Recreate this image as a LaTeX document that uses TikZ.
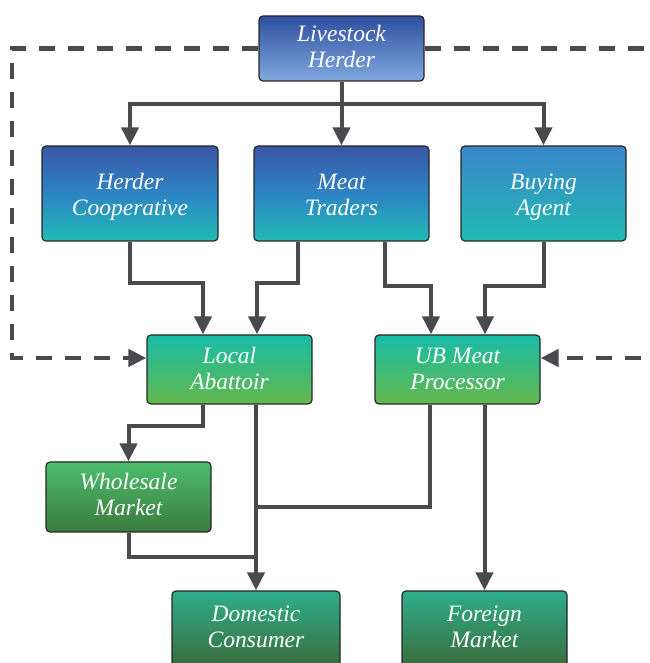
\documentclass[tikz,border=0pt]{standalone}
\usepackage{fontspec}
\setmainfont{Liberation Serif}
\usetikzlibrary{arrows.meta}

% box fills
\definecolor{herdTop}{HTML}{2F4FA0}
\definecolor{herdBot}{HTML}{80A8DE}
\definecolor{midTop}{HTML}{3A56A6}
\definecolor{midMid}{HTML}{2D84C4}
\definecolor{midBot}{HTML}{22BAB4}
\definecolor{agentTop}{HTML}{3A86CA}
\definecolor{procTop}{HTML}{18BCA6}
\definecolor{procBot}{HTML}{64B84C}
\definecolor{wsTop}{HTML}{4CBE6C}
\definecolor{wsBot}{HTML}{3A7A3E}
\definecolor{endTop}{HTML}{2EAE8C}
\definecolor{endBot}{HTML}{3C6432}
\definecolor{wire}{HTML}{4A4A4E}

% two centred lines of label text; the first baseline sits #1 above the box centre
\newcommand{\boxtext}[3]{\raisebox{#1}[0pt][0pt]{\begin{tabular}[t]{@{}c@{}}#2\\#3\end{tabular}}}

\tikzset{
  box/.style={draw=black!85, line width=1.2pt, rounded corners=4pt,
    shading=axis, align=center, text=white,
    font=\fontsize{23.5}{26}\selectfont\itshape, inner sep=0pt},
  conn/.style={draw=wire, line width=4pt},
  flow/.style={conn, -{Triangle[width=17pt,length=18pt]}},
  loopback/.style={draw=wire, line width=4.5pt, dash pattern=on 16pt off 13pt,
    -{Triangle[width=17pt,length=18pt]}},
}

\begin{document}
\begin{tikzpicture}[x=1pt,y=1pt]
\useasboundingbox (0,0) rectangle (649,663);
\clip (0,0) rectangle (649,663);

% nodes
\node[box, minimum width=165pt, minimum height=65pt, top color=herdTop, bottom color=herdBot]
  (LH) at (341.5,614.5) {\boxtext{6.8pt}{Livestock}{Herder}};

\node[box, minimum width=176pt, minimum height=95pt, top color=midTop, bottom color=midBot, middle color=midMid]
  (HC) at (130,469.5) {\boxtext{3.5pt}{Herder}{Cooperative}};
\node[box, minimum width=175pt, minimum height=95pt, top color=midTop, bottom color=midBot, middle color=midMid]
  (MT) at (341.5,469.5) {\boxtext{3.5pt}{Meat}{Traders}};
\node[box, minimum width=165pt, minimum height=95pt, top color=agentTop, bottom color=midBot]
  (BA) at (543.5,469.5) {\boxtext{3.5pt}{Buying}{Agent}};

\node[box, minimum width=165pt, minimum height=69pt, top color=procTop, bottom color=procBot]
  (LA) at (229.5,293.5) {\boxtext{5.5pt}{Local}{Abattoir}};
\node[box, minimum width=165pt, minimum height=69pt, top color=procTop, bottom color=procBot]
  (UB) at (457.5,293.5) {\boxtext{5.5pt}{UB Meat}{Processor}};

\node[box, minimum width=165pt, minimum height=70pt, top color=wsTop, bottom color=wsBot]
  (WM) at (128.5,166) {\boxtext{7pt}{Wholesale}{Market}};

\node[box, minimum width=168pt, minimum height=86pt, top color=endTop, bottom color=endBot]
  (DC) at (256,29) {\boxtext{12pt}{Domestic}{Consumer}};
\node[box, minimum width=165pt, minimum height=86pt, top color=endTop, bottom color=endBot]
  (FM) at (484.5,29) {\boxtext{12pt}{Foreign}{Market}};

% herder to the three buyers
\coordinate (bus) at (341.5,559);
\draw[conn] (LH.south) -- (bus);
\draw[flow] (bus) -| (HC.north);
\draw[flow] (bus) -- (MT.north);
\draw[flow] (bus) -| (BA.north);

% buyers to abattoir and processor
\draw[flow] (HC.south) -- ++(0,-41) -| ([xshift=-26.5pt]LA.north);
\draw[flow] ([xshift=-43.5pt]MT.south) -- ++(0,-41) -| ([xshift=27.5pt]LA.north);
\draw[flow] ([xshift=43.5pt]MT.south) -- ++(0,-44) -| ([xshift=-26.5pt]UB.north);
\draw[flow] (BA.south) -- ++(0,-44) -| ([xshift=27.5pt]UB.north);

% direct sales from the herder
\draw[loopback] (LH.west) -| (12,305) -- ([yshift=11.5pt]LA.west);
\draw[loopback] (LH.east) -| (668,305) -- ([yshift=11.5pt]UB.east);

% abattoir and processor outlets
\draw[flow] ([xshift=-26.5pt]LA.south) -- ++(0,-21) -| (WM.north);
\draw[flow] (DC.north |- LA.south) -- (DC.north);
\draw[conn] ([xshift=-27.5pt]UB.south) |- (DC.north |- 0,156);
\draw[conn] (WM.south) |- (DC.north |- 0,106);
\draw[flow] (FM.north |- UB.south) -- (FM.north);
\end{tikzpicture}
\end{document}
